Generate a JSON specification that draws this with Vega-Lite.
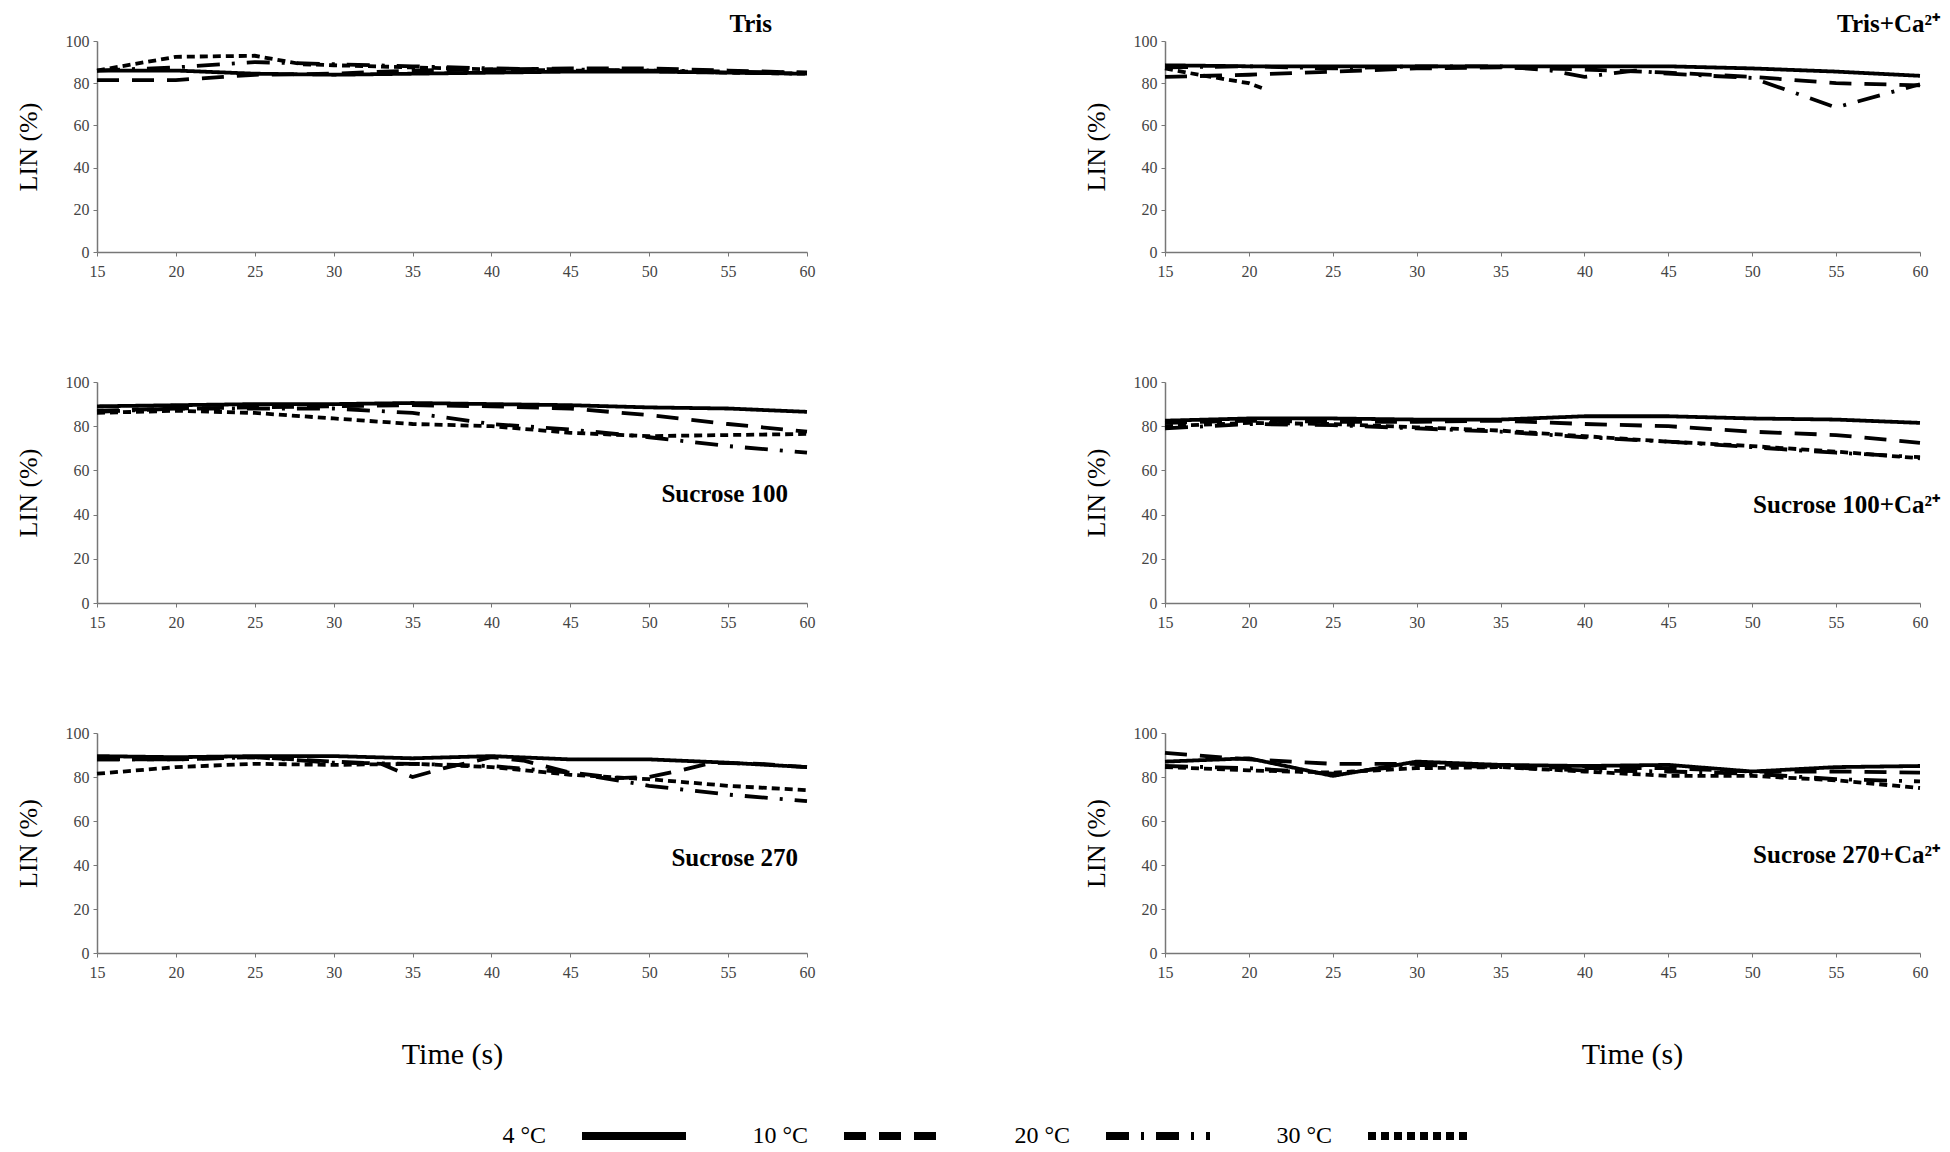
{
  "$schema": "https://vega.github.io/schema/vega-lite/v6.json",
  "padding": {"left": 15, "top": 12, "right": 3, "bottom": 3},
  "background": "white",
  "data": {"values": [
    {"panel":"Tris","temp":"4 °C","time":15,"lin":86},{"panel":"Tris","temp":"4 °C","time":20,"lin":86},{"panel":"Tris","temp":"4 °C","time":25,"lin":84.5},{"panel":"Tris","temp":"4 °C","time":30,"lin":84},{"panel":"Tris","temp":"4 °C","time":35,"lin":84.5},{"panel":"Tris","temp":"4 °C","time":40,"lin":85},{"panel":"Tris","temp":"4 °C","time":45,"lin":85.5},{"panel":"Tris","temp":"4 °C","time":50,"lin":85.5},{"panel":"Tris","temp":"4 °C","time":55,"lin":85},{"panel":"Tris","temp":"4 °C","time":60,"lin":84.5},
    {"panel":"Tris","temp":"10 °C","time":15,"lin":81.5},{"panel":"Tris","temp":"10 °C","time":20,"lin":81.5},{"panel":"Tris","temp":"10 °C","time":23,"lin":83},{"panel":"Tris","temp":"10 °C","time":25,"lin":84},{"panel":"Tris","temp":"10 °C","time":30,"lin":84.5},{"panel":"Tris","temp":"10 °C","time":35,"lin":86},{"panel":"Tris","temp":"10 °C","time":40,"lin":86.5},{"panel":"Tris","temp":"10 °C","time":45,"lin":87},{"panel":"Tris","temp":"10 °C","time":50,"lin":87},{"panel":"Tris","temp":"10 °C","time":55,"lin":86},{"panel":"Tris","temp":"10 °C","time":60,"lin":85},
    {"panel":"Tris","temp":"20 °C","time":15,"lin":86},{"panel":"Tris","temp":"20 °C","time":20,"lin":87.5},{"panel":"Tris","temp":"20 °C","time":25,"lin":90},{"panel":"Tris","temp":"20 °C","time":30,"lin":89},{"panel":"Tris","temp":"20 °C","time":35,"lin":88},{"panel":"Tris","temp":"20 °C","time":40,"lin":87},{"panel":"Tris","temp":"20 °C","time":45,"lin":86.5},{"panel":"Tris","temp":"20 °C","time":50,"lin":86},{"panel":"Tris","temp":"20 °C","time":55,"lin":85.5},{"panel":"Tris","temp":"20 °C","time":60,"lin":85},
    {"panel":"Tris","temp":"30 °C","time":15,"lin":86},{"panel":"Tris","temp":"30 °C","time":20,"lin":92.5},{"panel":"Tris","temp":"30 °C","time":25,"lin":93},{"panel":"Tris","temp":"30 °C","time":28,"lin":89},{"panel":"Tris","temp":"30 °C","time":30,"lin":88.5},{"panel":"Tris","temp":"30 °C","time":35,"lin":87.5},{"panel":"Tris","temp":"30 °C","time":40,"lin":86.5},{"panel":"Tris","temp":"30 °C","time":45,"lin":86},{"panel":"Tris","temp":"30 °C","time":50,"lin":86},{"panel":"Tris","temp":"30 °C","time":55,"lin":85},{"panel":"Tris","temp":"30 °C","time":60,"lin":84.5},

    {"panel":"TrisCa","temp":"4 °C","time":15,"lin":88.5},{"panel":"TrisCa","temp":"4 °C","time":20,"lin":88},{"panel":"TrisCa","temp":"4 °C","time":25,"lin":88},{"panel":"TrisCa","temp":"4 °C","time":30,"lin":88},{"panel":"TrisCa","temp":"4 °C","time":35,"lin":88},{"panel":"TrisCa","temp":"4 °C","time":40,"lin":88},{"panel":"TrisCa","temp":"4 °C","time":45,"lin":88},{"panel":"TrisCa","temp":"4 °C","time":50,"lin":87},{"panel":"TrisCa","temp":"4 °C","time":55,"lin":85.5},{"panel":"TrisCa","temp":"4 °C","time":60,"lin":83.5},
    {"panel":"TrisCa","temp":"10 °C","time":15,"lin":83},{"panel":"TrisCa","temp":"10 °C","time":20,"lin":84},{"panel":"TrisCa","temp":"10 °C","time":25,"lin":85.5},{"panel":"TrisCa","temp":"10 °C","time":30,"lin":87},{"panel":"TrisCa","temp":"10 °C","time":35,"lin":87.5},{"panel":"TrisCa","temp":"10 °C","time":40,"lin":86.5},{"panel":"TrisCa","temp":"10 °C","time":45,"lin":85},{"panel":"TrisCa","temp":"10 °C","time":50,"lin":83},{"panel":"TrisCa","temp":"10 °C","time":55,"lin":80},{"panel":"TrisCa","temp":"10 °C","time":60,"lin":79},
    {"panel":"TrisCa","temp":"20 °C","time":15,"lin":87.5},{"panel":"TrisCa","temp":"20 °C","time":20,"lin":88},{"panel":"TrisCa","temp":"20 °C","time":25,"lin":87},{"panel":"TrisCa","temp":"20 °C","time":30,"lin":88},{"panel":"TrisCa","temp":"20 °C","time":35,"lin":88},{"panel":"TrisCa","temp":"20 °C","time":38,"lin":86},{"panel":"TrisCa","temp":"20 °C","time":40,"lin":83},{"panel":"TrisCa","temp":"20 °C","time":43,"lin":86},{"panel":"TrisCa","temp":"20 °C","time":45,"lin":84.5},{"panel":"TrisCa","temp":"20 °C","time":50,"lin":82.5},{"panel":"TrisCa","temp":"20 °C","time":55,"lin":68.5},{"panel":"TrisCa","temp":"20 °C","time":60,"lin":79.5},
    {"panel":"TrisCa","temp":"30 °C","time":15,"lin":87},{"panel":"TrisCa","temp":"30 °C","time":17,"lin":84},{"panel":"TrisCa","temp":"30 °C","time":20,"lin":80},{"panel":"TrisCa","temp":"30 °C","time":21,"lin":77},

    {"panel":"Suc100","temp":"4 °C","time":15,"lin":89},{"panel":"Suc100","temp":"4 °C","time":20,"lin":89.5},{"panel":"Suc100","temp":"4 °C","time":25,"lin":90},{"panel":"Suc100","temp":"4 °C","time":30,"lin":90},{"panel":"Suc100","temp":"4 °C","time":35,"lin":90.5},{"panel":"Suc100","temp":"4 °C","time":40,"lin":90},{"panel":"Suc100","temp":"4 °C","time":45,"lin":89.5},{"panel":"Suc100","temp":"4 °C","time":50,"lin":88.5},{"panel":"Suc100","temp":"4 °C","time":55,"lin":88},{"panel":"Suc100","temp":"4 °C","time":60,"lin":86.5},
    {"panel":"Suc100","temp":"10 °C","time":15,"lin":87},{"panel":"Suc100","temp":"10 °C","time":20,"lin":88},{"panel":"Suc100","temp":"10 °C","time":25,"lin":88.5},{"panel":"Suc100","temp":"10 °C","time":30,"lin":89},{"panel":"Suc100","temp":"10 °C","time":35,"lin":89.5},{"panel":"Suc100","temp":"10 °C","time":40,"lin":89},{"panel":"Suc100","temp":"10 °C","time":45,"lin":88},{"panel":"Suc100","temp":"10 °C","time":50,"lin":85},{"panel":"Suc100","temp":"10 °C","time":55,"lin":81},{"panel":"Suc100","temp":"10 °C","time":60,"lin":77.5},
    {"panel":"Suc100","temp":"20 °C","time":15,"lin":86.5},{"panel":"Suc100","temp":"20 °C","time":20,"lin":88},{"panel":"Suc100","temp":"20 °C","time":25,"lin":88},{"panel":"Suc100","temp":"20 °C","time":30,"lin":88},{"panel":"Suc100","temp":"20 °C","time":35,"lin":86},{"panel":"Suc100","temp":"20 °C","time":40,"lin":81},{"panel":"Suc100","temp":"20 °C","time":45,"lin":78.5},{"panel":"Suc100","temp":"20 °C","time":50,"lin":75},{"panel":"Suc100","temp":"20 °C","time":55,"lin":71},{"panel":"Suc100","temp":"20 °C","time":60,"lin":68},
    {"panel":"Suc100","temp":"30 °C","time":15,"lin":86},{"panel":"Suc100","temp":"30 °C","time":20,"lin":87},{"panel":"Suc100","temp":"30 °C","time":25,"lin":86},{"panel":"Suc100","temp":"30 °C","time":30,"lin":83.5},{"panel":"Suc100","temp":"30 °C","time":35,"lin":81},{"panel":"Suc100","temp":"30 °C","time":40,"lin":80},{"panel":"Suc100","temp":"30 °C","time":45,"lin":77},{"panel":"Suc100","temp":"30 °C","time":50,"lin":75.5},{"panel":"Suc100","temp":"30 °C","time":55,"lin":76},{"panel":"Suc100","temp":"30 °C","time":60,"lin":76.5},

    {"panel":"Suc100Ca","temp":"4 °C","time":15,"lin":82.5},{"panel":"Suc100Ca","temp":"4 °C","time":20,"lin":83.5},{"panel":"Suc100Ca","temp":"4 °C","time":25,"lin":83.5},{"panel":"Suc100Ca","temp":"4 °C","time":30,"lin":83},{"panel":"Suc100Ca","temp":"4 °C","time":35,"lin":83},{"panel":"Suc100Ca","temp":"4 °C","time":40,"lin":84.5},{"panel":"Suc100Ca","temp":"4 °C","time":45,"lin":84.5},{"panel":"Suc100Ca","temp":"4 °C","time":50,"lin":83.5},{"panel":"Suc100Ca","temp":"4 °C","time":55,"lin":83},{"panel":"Suc100Ca","temp":"4 °C","time":60,"lin":81.5},
    {"panel":"Suc100Ca","temp":"10 °C","time":15,"lin":81.5},{"panel":"Suc100Ca","temp":"10 °C","time":20,"lin":82.5},{"panel":"Suc100Ca","temp":"10 °C","time":25,"lin":82},{"panel":"Suc100Ca","temp":"10 °C","time":30,"lin":82},{"panel":"Suc100Ca","temp":"10 °C","time":35,"lin":82.5},{"panel":"Suc100Ca","temp":"10 °C","time":40,"lin":81},{"panel":"Suc100Ca","temp":"10 °C","time":45,"lin":80},{"panel":"Suc100Ca","temp":"10 °C","time":50,"lin":77.5},{"panel":"Suc100Ca","temp":"10 °C","time":55,"lin":76},{"panel":"Suc100Ca","temp":"10 °C","time":60,"lin":72.5},
    {"panel":"Suc100Ca","temp":"20 °C","time":15,"lin":79},{"panel":"Suc100Ca","temp":"20 °C","time":20,"lin":81},{"panel":"Suc100Ca","temp":"20 °C","time":25,"lin":80.5},{"panel":"Suc100Ca","temp":"20 °C","time":30,"lin":79},{"panel":"Suc100Ca","temp":"20 °C","time":35,"lin":77.5},{"panel":"Suc100Ca","temp":"20 °C","time":40,"lin":75},{"panel":"Suc100Ca","temp":"20 °C","time":45,"lin":73},{"panel":"Suc100Ca","temp":"20 °C","time":50,"lin":70.5},{"panel":"Suc100Ca","temp":"20 °C","time":55,"lin":68},{"panel":"Suc100Ca","temp":"20 °C","time":60,"lin":66},
    {"panel":"Suc100Ca","temp":"30 °C","time":15,"lin":80},{"panel":"Suc100Ca","temp":"30 °C","time":20,"lin":81.5},{"panel":"Suc100Ca","temp":"30 °C","time":25,"lin":81},{"panel":"Suc100Ca","temp":"30 °C","time":30,"lin":79.5},{"panel":"Suc100Ca","temp":"30 °C","time":35,"lin":78},{"panel":"Suc100Ca","temp":"30 °C","time":40,"lin":75.5},{"panel":"Suc100Ca","temp":"30 °C","time":45,"lin":73},{"panel":"Suc100Ca","temp":"30 °C","time":50,"lin":71},{"panel":"Suc100Ca","temp":"30 °C","time":55,"lin":68.5},{"panel":"Suc100Ca","temp":"30 °C","time":60,"lin":65.5},

    {"panel":"Suc270","temp":"4 °C","time":15,"lin":89.5},{"panel":"Suc270","temp":"4 °C","time":20,"lin":89},{"panel":"Suc270","temp":"4 °C","time":25,"lin":89.5},{"panel":"Suc270","temp":"4 °C","time":30,"lin":89.5},{"panel":"Suc270","temp":"4 °C","time":35,"lin":88.5},{"panel":"Suc270","temp":"4 °C","time":40,"lin":89.5},{"panel":"Suc270","temp":"4 °C","time":45,"lin":88},{"panel":"Suc270","temp":"4 °C","time":50,"lin":88},{"panel":"Suc270","temp":"4 °C","time":55,"lin":86.5},{"panel":"Suc270","temp":"4 °C","time":60,"lin":84.5},
    {"panel":"Suc270","temp":"10 °C","time":15,"lin":88},{"panel":"Suc270","temp":"10 °C","time":20,"lin":88},{"panel":"Suc270","temp":"10 °C","time":25,"lin":89},{"panel":"Suc270","temp":"10 °C","time":30,"lin":87},{"panel":"Suc270","temp":"10 °C","time":33,"lin":86},{"panel":"Suc270","temp":"10 °C","time":35,"lin":80},{"panel":"Suc270","temp":"10 °C","time":37,"lin":84},{"panel":"Suc270","temp":"10 °C","time":40,"lin":89},{"panel":"Suc270","temp":"10 °C","time":42,"lin":87.5},{"panel":"Suc270","temp":"10 °C","time":45,"lin":82},{"panel":"Suc270","temp":"10 °C","time":48,"lin":79.5},{"panel":"Suc270","temp":"10 °C","time":50,"lin":80},{"panel":"Suc270","temp":"10 °C","time":52,"lin":83},{"panel":"Suc270","temp":"10 °C","time":54,"lin":86.5},{"panel":"Suc270","temp":"10 °C","time":57,"lin":86},{"panel":"Suc270","temp":"10 °C","time":60,"lin":84.5},
    {"panel":"Suc270","temp":"20 °C","time":15,"lin":88},{"panel":"Suc270","temp":"20 °C","time":20,"lin":88},{"panel":"Suc270","temp":"20 °C","time":25,"lin":89},{"panel":"Suc270","temp":"20 °C","time":30,"lin":86.5},{"panel":"Suc270","temp":"20 °C","time":35,"lin":86},{"panel":"Suc270","temp":"20 °C","time":40,"lin":85},{"panel":"Suc270","temp":"20 °C","time":45,"lin":82},{"panel":"Suc270","temp":"20 °C","time":50,"lin":76},{"panel":"Suc270","temp":"20 °C","time":55,"lin":72},{"panel":"Suc270","temp":"20 °C","time":60,"lin":69},
    {"panel":"Suc270","temp":"30 °C","time":15,"lin":81.5},{"panel":"Suc270","temp":"30 °C","time":20,"lin":84.5},{"panel":"Suc270","temp":"30 °C","time":25,"lin":86},{"panel":"Suc270","temp":"30 °C","time":30,"lin":85.5},{"panel":"Suc270","temp":"30 °C","time":35,"lin":86},{"panel":"Suc270","temp":"30 °C","time":40,"lin":84.5},{"panel":"Suc270","temp":"30 °C","time":45,"lin":81},{"panel":"Suc270","temp":"30 °C","time":50,"lin":79},{"panel":"Suc270","temp":"30 °C","time":55,"lin":76},{"panel":"Suc270","temp":"30 °C","time":60,"lin":74},

    {"panel":"Suc270Ca","temp":"4 °C","time":15,"lin":87},{"panel":"Suc270Ca","temp":"4 °C","time":20,"lin":88.5},{"panel":"Suc270Ca","temp":"4 °C","time":25,"lin":80.5},{"panel":"Suc270Ca","temp":"4 °C","time":30,"lin":87},{"panel":"Suc270Ca","temp":"4 °C","time":35,"lin":85.5},{"panel":"Suc270Ca","temp":"4 °C","time":40,"lin":85},{"panel":"Suc270Ca","temp":"4 °C","time":45,"lin":85.5},{"panel":"Suc270Ca","temp":"4 °C","time":50,"lin":82.5},{"panel":"Suc270Ca","temp":"4 °C","time":55,"lin":84.5},{"panel":"Suc270Ca","temp":"4 °C","time":60,"lin":85},
    {"panel":"Suc270Ca","temp":"10 °C","time":15,"lin":91},{"panel":"Suc270Ca","temp":"10 °C","time":20,"lin":88},{"panel":"Suc270Ca","temp":"10 °C","time":25,"lin":86},{"panel":"Suc270Ca","temp":"10 °C","time":30,"lin":86},{"panel":"Suc270Ca","temp":"10 °C","time":35,"lin":85},{"panel":"Suc270Ca","temp":"10 °C","time":40,"lin":84},{"panel":"Suc270Ca","temp":"10 °C","time":45,"lin":84},{"panel":"Suc270Ca","temp":"10 °C","time":50,"lin":82.5},{"panel":"Suc270Ca","temp":"10 °C","time":55,"lin":82.5},{"panel":"Suc270Ca","temp":"10 °C","time":60,"lin":82},
    {"panel":"Suc270Ca","temp":"20 °C","time":15,"lin":85},{"panel":"Suc270Ca","temp":"20 °C","time":20,"lin":84},{"panel":"Suc270Ca","temp":"20 °C","time":25,"lin":81.5},{"panel":"Suc270Ca","temp":"20 °C","time":30,"lin":85.5},{"panel":"Suc270Ca","temp":"20 °C","time":35,"lin":84.5},{"panel":"Suc270Ca","temp":"20 °C","time":40,"lin":83},{"panel":"Suc270Ca","temp":"20 °C","time":45,"lin":82.5},{"panel":"Suc270Ca","temp":"20 °C","time":50,"lin":81.5},{"panel":"Suc270Ca","temp":"20 °C","time":55,"lin":79},{"panel":"Suc270Ca","temp":"20 °C","time":60,"lin":78},
    {"panel":"Suc270Ca","temp":"30 °C","time":15,"lin":84.5},{"panel":"Suc270Ca","temp":"30 °C","time":20,"lin":83},{"panel":"Suc270Ca","temp":"30 °C","time":25,"lin":82},{"panel":"Suc270Ca","temp":"30 °C","time":30,"lin":84},{"panel":"Suc270Ca","temp":"30 °C","time":35,"lin":84.5},{"panel":"Suc270Ca","temp":"30 °C","time":40,"lin":82.5},{"panel":"Suc270Ca","temp":"30 °C","time":45,"lin":80.5},{"panel":"Suc270Ca","temp":"30 °C","time":50,"lin":80.5},{"panel":"Suc270Ca","temp":"30 °C","time":55,"lin":78.5},{"panel":"Suc270Ca","temp":"30 °C","time":60,"lin":75}
  ]},
  "columns": 2,
  "align": "each",
  "spacing": {"row": 95, "column": 268},
  "resolve": {"scale": {"strokeDash": "shared"}, "legend": {"strokeDash": "shared"}},
  "concat": [
    {
      "width": 710, "height": 211,
      "title": {"text": "Tris", "dx": -43},
      "transform": [{"filter": "datum.panel === 'Tris'"}],
      "mark": {"type": "line", "color": "black", "strokeWidth": 3.8},
      "encoding": {
        "x": {"field": "time", "type": "quantitative", "scale": {"domain": [15, 60], "nice": false, "zero": false}, "axis": {"title": null, "values": [15,20,25,30,35,40,45,50,55,60]}},
        "y": {"field": "lin", "type": "quantitative", "scale": {"domain": [0, 100]}, "axis": {"title": "LIN (%)", "values": [0,20,40,60,80,100]}},
        "strokeDash": {"field": "temp", "type": "nominal",
          "scale": {"domain": ["4 °C","10 °C","20 °C","30 °C"], "range": [[1,0],[22,13],[23,12,3,12],[8,5]]},
          "legend": {"orient": "none", "legendX": 481, "legendY": 1039, "direction": "horizontal", "title": null,
            "symbolType": "stroke", "symbolSize": 10816, "symbolStrokeWidth": 8, "symbolStrokeColor": "black",
            "labelFont": "Liberation Serif", "labelFontSize": 24, "labelColor": "black",
            "labelOffset": -144, "labelAlign": "right", "columnPadding": 50, "padding": 0}}
      }
    },
    {
      "width": 755, "height": 211,
      "title": {"text": "Tris+Ca²⁺", "dx": 12},
      "transform": [{"filter": "datum.panel === 'TrisCa'"}],
      "mark": {"type": "line", "color": "black", "strokeWidth": 3.8},
      "encoding": {
        "x": {"field": "time", "type": "quantitative", "scale": {"domain": [15, 60], "nice": false, "zero": false}, "axis": {"title": null, "values": [15,20,25,30,35,40,45,50,55,60]}},
        "y": {"field": "lin", "type": "quantitative", "scale": {"domain": [0, 100]}, "axis": {"title": "LIN (%)", "values": [0,20,40,60,80,100]}},
        "strokeDash": {"field": "temp", "type": "nominal"}
      }
    },
    {
      "width": 710, "height": 221,
      "title": {"text": "Sucrose 100", "dx": -27, "dy": 129},
      "transform": [{"filter": "datum.panel === 'Suc100'"}],
      "mark": {"type": "line", "color": "black", "strokeWidth": 3.8},
      "encoding": {
        "x": {"field": "time", "type": "quantitative", "scale": {"domain": [15, 60], "nice": false, "zero": false}, "axis": {"title": null, "values": [15,20,25,30,35,40,45,50,55,60]}},
        "y": {"field": "lin", "type": "quantitative", "scale": {"domain": [0, 100]}, "axis": {"title": "LIN (%)", "values": [0,20,40,60,80,100]}},
        "strokeDash": {"field": "temp", "type": "nominal"}
      }
    },
    {
      "width": 755, "height": 221,
      "title": {"text": "Sucrose 100+Ca²⁺", "dx": 12, "dy": 140},
      "transform": [{"filter": "datum.panel === 'Suc100Ca'"}],
      "mark": {"type": "line", "color": "black", "strokeWidth": 3.8},
      "encoding": {
        "x": {"field": "time", "type": "quantitative", "scale": {"domain": [15, 60], "nice": false, "zero": false}, "axis": {"title": null, "values": [15,20,25,30,35,40,45,50,55,60]}},
        "y": {"field": "lin", "type": "quantitative", "scale": {"domain": [0, 100]}, "axis": {"title": "LIN (%)", "values": [0,20,40,60,80,100]}},
        "strokeDash": {"field": "temp", "type": "nominal"}
      }
    },
    {
      "width": 710, "height": 220,
      "title": {"text": "Sucrose 270", "dx": -17, "dy": 142},
      "transform": [{"filter": "datum.panel === 'Suc270'"}],
      "mark": {"type": "line", "color": "black", "strokeWidth": 3.8},
      "encoding": {
        "x": {"field": "time", "type": "quantitative", "scale": {"domain": [15, 60], "nice": false, "zero": false}, "axis": {"title": "Time (s)", "titleFontSize": 30, "titlePadding": 59, "values": [15,20,25,30,35,40,45,50,55,60]}},
        "y": {"field": "lin", "type": "quantitative", "scale": {"domain": [0, 100]}, "axis": {"title": "LIN (%)", "values": [0,20,40,60,80,100]}},
        "strokeDash": {"field": "temp", "type": "nominal"}
      }
    },
    {
      "width": 755, "height": 220,
      "title": {"text": "Sucrose 270+Ca²⁺", "dx": 12, "dy": 139},
      "transform": [{"filter": "datum.panel === 'Suc270Ca'"}],
      "mark": {"type": "line", "color": "black", "strokeWidth": 3.8},
      "encoding": {
        "x": {"field": "time", "type": "quantitative", "scale": {"domain": [15, 60], "nice": false, "zero": false}, "axis": {"title": "Time (s)", "titleFontSize": 30, "titlePadding": 59, "titleX": 467, "titleAlign": "center", "values": [15,20,25,30,35,40,45,50,55,60]}},
        "y": {"field": "lin", "type": "quantitative", "scale": {"domain": [0, 100]}, "axis": {"title": "LIN (%)", "values": [0,20,40,60,80,100]}},
        "strokeDash": {"field": "temp", "type": "nominal"}
      }
    }
  ],
  "config": {
    "view": {"stroke": null},
    "font": "Liberation Serif",
    "axis": {"domainColor": "#777", "domainWidth": 1.5, "tickColor": "#777", "tickSize": 4, "labelFont": "Liberation Serif", "labelFontSize": 16, "labelColor": "#444", "labelPadding": 4, "grid": false, "titleFont": "Liberation Serif", "titleFontWeight": "normal", "titleColor": "black", "titleFontSize": 26, "labelFlush": false},
    "axisX": {"labelPadding": 7},
    "axisY": {"titlePadding": 24},
    "title": {"font": "Liberation Serif", "fontSize": 25, "fontWeight": "bold", "color": "black", "anchor": "end", "baseline": "middle", "offset": -4}
  }
}
